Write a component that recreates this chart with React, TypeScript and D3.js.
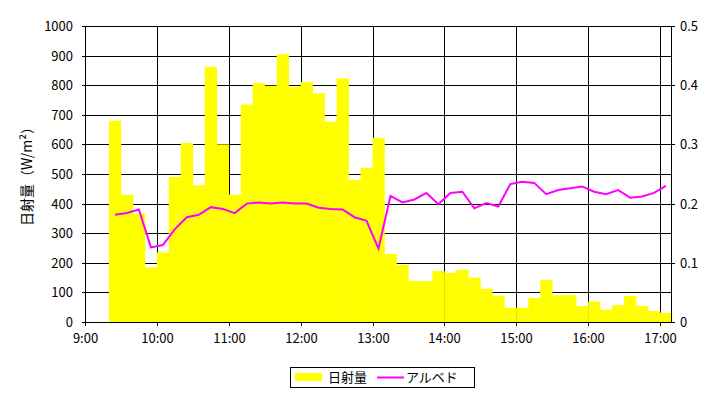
import React from 'react';
import * as d3 from 'd3';

// 10-minute slots, start time of each bar
const TIMES = [
  '9:20', '9:30', '9:40', '9:50', '10:00', '10:10', '10:20', '10:30', '10:40', '10:50',
  '11:00', '11:10', '11:20', '11:30', '11:40', '11:50', '12:00', '12:10', '12:20', '12:30',
  '12:40', '12:50', '13:00', '13:10', '13:20', '13:30', '13:40', '13:50', '14:00', '14:10',
  '14:20', '14:30', '14:40', '14:50', '15:00', '15:10', '15:20', '15:30', '15:40', '15:50',
  '16:00', '16:10', '16:20', '16:30', '16:40', '16:50', '17:00',
];

// 日射量 (W/m2)
const RADIATION = [
  680, 430, 365, 185, 235, 490, 605, 462, 862, 600,
  430, 735, 807, 798, 905, 795, 811, 773, 677, 823,
  480, 521, 622, 230, 193, 138, 138, 172, 166, 176,
  150, 112, 89, 48, 48, 81, 142, 91, 91, 54,
  69, 41, 57, 88, 54, 37, 31,
];

// アルベド
const ALBEDO = [
  0.181, 0.184, 0.19, 0.126, 0.13, 0.157, 0.177, 0.181, 0.194, 0.191,
  0.184, 0.2, 0.202, 0.2, 0.202, 0.2, 0.2, 0.193, 0.191, 0.19,
  0.177, 0.171, 0.124, 0.213, 0.202, 0.207, 0.218, 0.199, 0.218, 0.22,
  0.192, 0.201, 0.195, 0.233, 0.237, 0.235, 0.216, 0.223, 0.226, 0.229,
  0.22, 0.216, 0.223, 0.21, 0.212, 0.218, 0.23,
];

const HOUR_TICKS = ['9:00', '10:00', '11:00', '12:00', '13:00', '14:00', '15:00', '16:00', '17:00'];
const LEFT_TICKS = [0, 100, 200, 300, 400, 500, 600, 700, 800, 900, 1000];
const RIGHT_TICKS = [0, 0.1, 0.2, 0.3, 0.4, 0.5];

const toMin = (s: string) => {
  const [h, m] = s.split(':').map(Number);
  return h * 60 + m;
};

const FONT = '"Noto Sans CJK JP", "DejaVu Sans", sans-serif';

export default function App() {
  const width = 721;
  const height = 397;
  const margin = { top: 26, right: 49, bottom: 75, left: 85 };
  const innerW = width - margin.left - margin.right;
  const innerH = height - margin.top - margin.bottom;

  const x = d3.scaleLinear().domain([toMin('9:00'), toMin('17:10')]).range([0, innerW]);
  const yL = d3.scaleLinear().domain([0, 1000]).range([innerH, 0]);
  const yR = d3.scaleLinear().domain([0, 0.5]).range([innerH, 0]);

  const line = d3.line<number>()
    .x((_, i) => x(toMin(TIMES[i]) + 5))
    .y((d) => yR(d));

  return (
    <svg width={width} height={height} style={{ position: 'absolute', left: 0, top: 0, background: '#fff' }}
      fontFamily={FONT} fontSize={13}>
      <g transform={`translate(${margin.left},${margin.top})`}>
        {/* grid */}
        {LEFT_TICKS.map((t) => (
          <line key={`h${t}`} x1={0} x2={innerW} y1={Math.round(yL(t)) + 0.5} y2={Math.round(yL(t)) + 0.5} stroke="#000" />
        ))}
        {HOUR_TICKS.map((t) => (
          <line key={`v${t}`} x1={Math.round(x(toMin(t))) + 0.5} x2={Math.round(x(toMin(t))) + 0.5} y1={0} y2={innerH} stroke="#000" />
        ))}

        {/* bars */}
        {RADIATION.map((v, i) => {
          const t = toMin(TIMES[i]);
          const x0 = x(t);
          const x1 = x(t + 10);
          return (
            <rect key={TIMES[i]} x={x0} y={yL(v)} width={x1 - x0 + 0.3} height={innerH - yL(v)} fill="#ffff00" />
          );
        })}

        {/* border */}
        <rect x={0.5} y={0.5} width={innerW - 1} height={innerH} fill="none" stroke="#000" />
        <line x1={0} x2={innerW} y1={innerH + 0.5} y2={innerH + 0.5} stroke="#000" />

        {/* albedo line */}
        <path d={line(ALBEDO) || ''} fill="none" stroke="#ff00ff" strokeWidth={2} strokeLinejoin="miter" />

        {/* left axis */}
        {LEFT_TICKS.map((t) => (
          <g key={`l${t}`} transform={`translate(0,${Math.round(yL(t)) + 0.5})`}>
            <line x1={-3} x2={0} stroke="#000" />
            <text x={-12} dy="0.35em" textAnchor="end">{t}</text>
          </g>
        ))}
        {/* right axis */}
        {RIGHT_TICKS.map((t) => (
          <g key={`r${t}`} transform={`translate(${innerW},${Math.round(yR(t)) + 0.5})`}>
            <line x1={0} x2={3} stroke="#000" />
            <text x={8} dy="0.35em" textAnchor="start">{t}</text>
          </g>
        ))}
        {/* bottom axis */}
        {HOUR_TICKS.map((t) => (
          <g key={`b${t}`} transform={`translate(${Math.round(x(toMin(t))) + 0.5},${innerH})`}>
            <line y1={0} y2={4} stroke="#000" />
            <text y={21} textAnchor="middle">{t}</text>
          </g>
        ))}

        <text transform={`translate(${-53},${innerH / 2 - 1}) rotate(-90)`} textAnchor="middle" fontSize={14}>
          日射量（W/m²）
        </text>
      </g>

      {/* legend */}
      <g transform="translate(290,367)">
        <rect x={0.5} y={0.5} width={184} height={20} fill="#fff" stroke="#000" />
        <rect x={5} y={6} width={27} height={8} fill="#ffff00" />
        <text x={38} y={15}>日射量</text>
        <line x1={87} x2={114} y1={10.5} y2={10.5} stroke="#ff00ff" strokeWidth={2} />
        <text x={116} y={15}>アルベド</text>
      </g>
    </svg>
  );
}
